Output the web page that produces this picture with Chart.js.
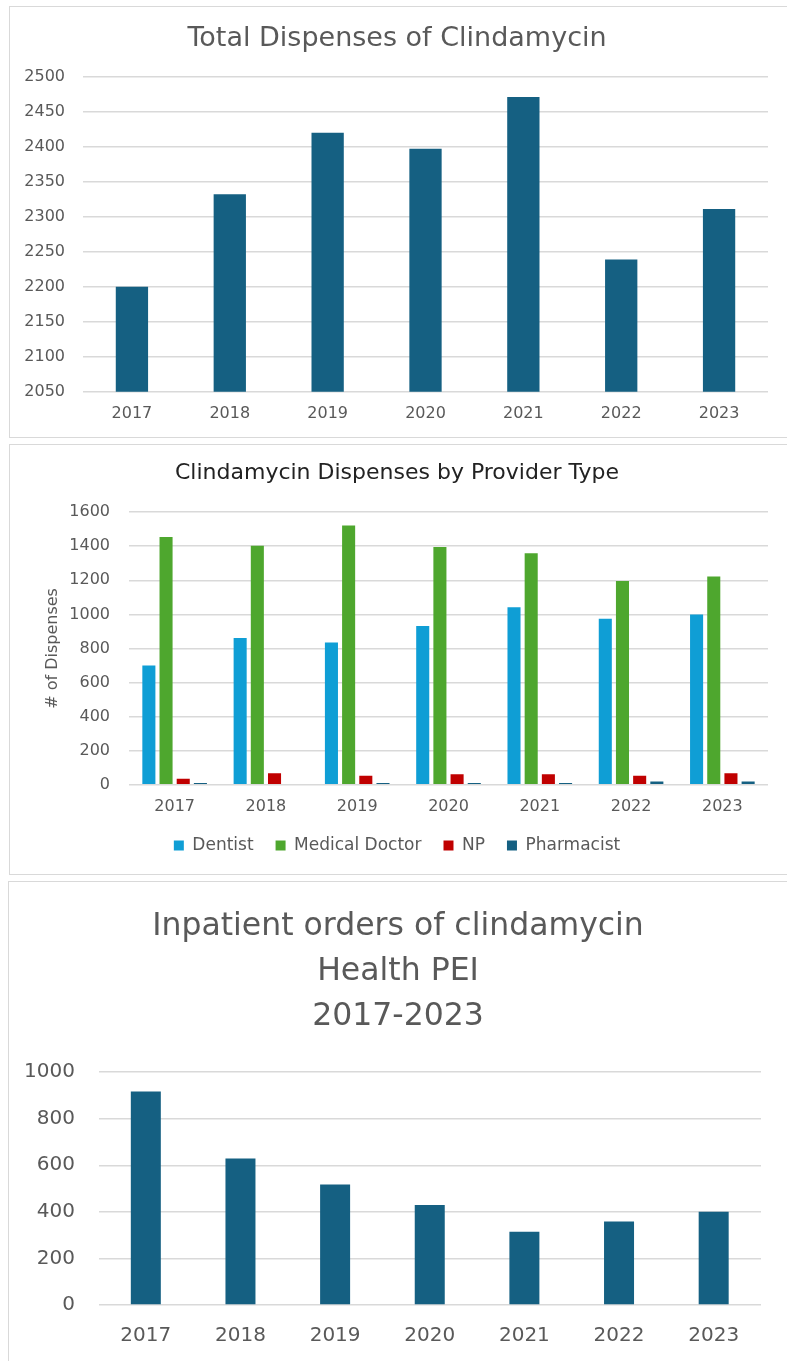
<!DOCTYPE html>
<html>
<head>
<meta charset="utf-8">
<script src="https://cdn.jsdelivr.net/npm/chart.js@4.4.1/dist/chart.umd.min.js"></script>
<style>
    body { margin: 0; background: #fff; overflow: hidden; }
    .panel { position: absolute; border: 1px solid #d9d9d9; box-sizing: border-box; background: #fff; overflow: hidden; }
    canvas { display: block; }
</style>
</head>
<body>
<div class="panel" style="left:9px;top:6px;width:800px;height:432px"><canvas id="totalChart" width="774" height="430"></canvas></div>
<div class="panel" style="left:9px;top:444px;width:800px;height:431px"><canvas id="providerChart" width="774" height="429"></canvas></div>
<div class="panel" style="left:8px;top:881px;width:800px;height:490px"><canvas id="inpatientChart" width="778" height="479"></canvas></div>

<script>
// values
var years = ['2017', '2018', '2019', '2020', '2021', '2022', '2023'];
var totalDispenses = [2200, 2332, 2420, 2397, 2471, 2239, 2311];

var providerNames = ['Dentist', 'Medical Doctor', 'NP', 'Pharmacist'];
var dentist = [700, 862, 835, 931, 1042, 974, 999];
var medicalDoctor = [1454, 1403, 1522, 1395, 1358, 1196, 1222];
var nursePractitioner = [35, 68, 53, 62, 62, 53, 68];
var pharmacist = [10, 0, 10, 10, 10, 19, 19];

var inpatientOrders = [917, 629, 517, 429, 315, 359, 400];

Chart.defaults.font.family = "'DejaVu Sans', sans-serif";
Chart.defaults.color = '#595959';
Chart.defaults.animation = false;

var darkBlue = '#156082';
var gridColor = '#d9d9d9';

// y axis with a fixed width so the plot area lands where it should
function yAxis(min, max, step, width, fontSize, pad) {
    return {
        min: min,
        max: max,
        ticks: {
            stepSize: step,
            padding: pad,
            font: { size: fontSize },
            color: '#595959',
            callback: function (v) { return String(v); }
        },
        grid: { color: gridColor, drawTicks: false, lineWidth: 1.5 },
        border: { display: false },
        afterFit: function (scale) { scale.width = width; }
    };
}

function xAxis(fontSize, pad, height) {
    return {
        ticks: { padding: pad, font: { size: fontSize }, color: '#595959' },
        grid: { display: false, drawTicks: false },
        border: { display: false },
        afterFit: function (scale) { scale.height = height; }
    };
}

// empty axis on the right, keeps the titles centred on the whole panel
function rightGap(width) {
    return {
        type: 'linear',
        position: 'right',
        ticks: { display: false },
        grid: { display: false, drawTicks: false },
        border: { display: false },
        afterFit: function (scale) { scale.width = width; }
    };
}

// Chart 1 - total dispenses
new Chart(document.getElementById('totalChart').getContext('2d'), {
    type: 'bar',
    data: {
        labels: years,
        datasets: [{
            label: 'Total Dispenses',
            data: totalDispenses,
            backgroundColor: darkBlue,
            categoryPercentage: 1,
            barPercentage: 0.33
        }]
    },
    options: {
        responsive: false,
        layout: { padding: { bottom: 1 } },
        plugins: {
            legend: { display: false },
            tooltip: { enabled: false },
            title: {
                display: true,
                text: 'Total Dispenses of Clindamycin',
                color: '#595959',
                font: { size: 27, weight: 'normal' },
                padding: { top: 16, bottom: 21.3 }
            }
        },
        scales: {
            x: xAxis(16, 12.7, 44.3),
            y: yAxis(2050, 2500, 50, 73, 16, 18),
            gap: rightGap(16)
        }
    }
});

// Chart 2 - by provider type
var providerColors = ['#0F9ED5', '#4EA72E', '#C00000', '#156082'];
var providerSeries = [dentist, medicalDoctor, nursePractitioner, pharmacist];

new Chart(document.getElementById('providerChart').getContext('2d'), {
    type: 'bar',
    data: {
        labels: years,
        datasets: providerNames.map(function (name, i) {
            return {
                label: name,
                data: providerSeries[i],
                backgroundColor: providerColors[i],
                categoryPercentage: 0.753,
                barPercentage: 0.76
            };
        })
    },
    options: {
        responsive: false,
        layout: { padding: { left: 0, right: 0, top: 1, bottom: 10 } },
        plugins: {
            tooltip: { enabled: false },
            title: {
                display: true,
                text: 'Clindamycin Dispenses by Provider Type',
                color: '#222222',
                font: { size: 22, weight: 'normal' },
                padding: { top: 14, bottom: 25.7 }
            },
            legend: {
                position: 'bottom',
                labels: {
                    boxWidth: 10,
                    boxHeight: 10,
                    padding: 22,
                    color: '#595959',
                    font: { size: 17 }
                }
            }
        },
        scales: {
            x: xAxis(16, 12, 30.2),
            y: Object.assign(yAxis(0, 1600, 200, 119, 16, 19), {
                title: {
                    display: true,
                    text: '# of Dispenses',
                    color: '#595959',
                    font: { size: 16 },
                    padding: { top: 33, bottom: 0 }
                }
            }),
            gap: rightGap(16)
        }
    }
});

// Chart 3 - inpatient orders
new Chart(document.getElementById('inpatientChart').getContext('2d'), {
    type: 'bar',
    data: {
        labels: years,
        datasets: [{
            label: 'Inpatient orders',
            data: inpatientOrders,
            backgroundColor: darkBlue,
            categoryPercentage: 1,
            barPercentage: 0.317
        }]
    },
    options: {
        responsive: false,
        layout: { padding: 0 },
        plugins: {
            legend: { display: false },
            tooltip: { enabled: false },
            title: {
                display: true,
                text: ['Inpatient orders of clindamycin', 'Health PEI', '2017-2023'],
                color: '#595959',
                font: { size: 31.5, weight: 'normal', lineHeight: 1.43 },
                padding: { top: 22, bottom: 33 }
            }
        },
        scales: {
            x: xAxis(20, 19, 56),
            y: yAxis(0, 1000, 200, 89.5, 20, 23.5),
            gap: rightGap(26)
        }
    }
});
</script>
</body>
</html>
